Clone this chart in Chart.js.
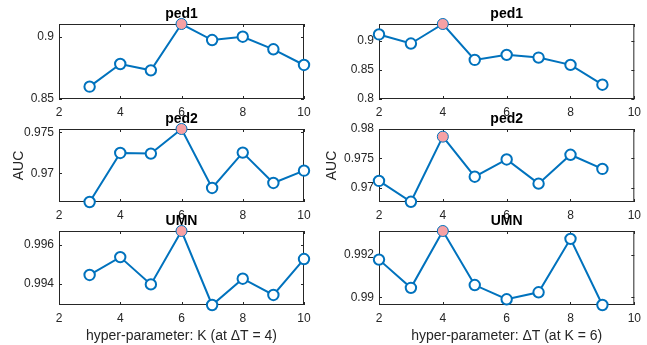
<!DOCTYPE html>
<html>
<head>
<meta charset="utf-8">
<script src="https://cdn.jsdelivr.net/npm/chart.js@4.4.1/dist/chart.umd.min.js"></script>
<style>
  body { margin: 0; background: #fff; width: 647px; height: 345px; position: relative; overflow: hidden; }
  canvas { position: absolute; }
</style>
</head>
<body>
<canvas id="ped1K"></canvas>
<canvas id="ped1DT"></canvas>
<canvas id="ped2K"></canvas>
<canvas id="ped2DT"></canvas>
<canvas id="umnK"></canvas>
<canvas id="umnDT"></canvas>
<script>
// x values
const kSteps = [3, 4, 5, 6, 7, 8, 9, 10];
const dtSteps = [2, 3, 4, 5, 6, 7, 8, 9];
const xTicks = [2, 4, 6, 8, 10];

// AUC, varying K (dT = 4)
const ped1K = [0.8599, 0.8781, 0.8730, 0.9102, 0.8973, 0.9000, 0.8899, 0.8773];
const ped2K = [0.9665, 0.97248, 0.9724, 0.9754, 0.96821, 0.97252, 0.96882, 0.97032];
const umnK = [0.99446, 0.99537, 0.99398, 0.9967, 0.99293, 0.99427, 0.99344, 0.99527];

// AUC, varying dT (K = 6)
const ped1DT = [0.9115, 0.8958, 0.9295, 0.8675, 0.8762, 0.8715, 0.8589, 0.8247];
const ped2DT = [0.97118, 0.96764, 0.9787, 0.9719, 0.97483, 0.97072, 0.97562, 0.97322];
const umnDT = [0.99178, 0.99045, 0.99313, 0.99058, 0.98991, 0.99024, 0.99276, 0.98964];

// y limits and ticks
const ped1KLim = [0.85, 0.9102];
const ped2KLim = [0.9665, 0.9754];
const umnKLim = [0.99293, 0.9967];
const ped1DTLim = [0.8, 0.9295];
const ped2DTLim = [0.9676, 0.98];
const umnDTLim = [0.98964, 0.99313];

const ped1KTicks = [0.85, 0.9];
const ped2KTicks = [0.97, 0.975];
const umnKTicks = [0.994, 0.996];
const ped1DTTicks = [0.8, 0.85, 0.9];
const ped2DTTicks = [0.97, 0.975, 0.98];
const umnDTTicks = [0.99, 0.992];

const FONT = "'Liberation Sans', Arial, sans-serif";
const AXIS = '#262626';
const BLUE = '#0072BD';
const PINK = '#F7A1A4';

// box with inward ticks on all four sides, like matlab
const frame = {
    id: 'frame',
    beforeDatasetsDraw(chart) {
        const { ctx, chartArea: a, scales: { x, y } } = chart;
        ctx.save();
        ctx.strokeStyle = AXIS;
        ctx.lineWidth = 1;
        ctx.strokeRect(a.left + 0.5, a.top + 0.5, a.width - 1, a.height - 1);
        ctx.beginPath();
        x.ticks.forEach(t => {
            const px = Math.round(x.getPixelForValue(t.value)) + 0.5;
            ctx.moveTo(px, a.bottom); ctx.lineTo(px, a.bottom - 3);
            ctx.moveTo(px, a.top); ctx.lineTo(px, a.top + 3);
        });
        y.ticks.forEach(t => {
            const py = Math.round(y.getPixelForValue(t.value)) + 0.5;
            ctx.moveTo(a.left, py); ctx.lineTo(a.left + 3, py);
            ctx.moveTo(a.right, py); ctx.lineTo(a.right - 3, py);
        });
        ctx.stroke();
        ctx.restore();
    }
};

function fmt(v) {
    return String(+Number(v).toFixed(4));
}

function makePanel(id, pos, title, xs, ys, lim, yTicks, yLabel, xLabel) {
    const cv = document.getElementById(id);
    cv.width = pos.w; cv.height = pos.h;
    cv.style.left = pos.left + 'px';
    cv.style.top = pos.top + 'px';

    const best = ys.indexOf(Math.max(...ys));

    return new Chart(cv.getContext('2d'), {
        type: 'line',
        data: {
            datasets: [{
                data: xs.map((x, i) => ({ x: x, y: ys[i] })),
                borderColor: BLUE,
                borderWidth: 2,
                pointBorderColor: BLUE,
                pointBackgroundColor: ys.map((v, i) => i === best ? PINK : '#fff'),
                pointBorderWidth: ys.map((v, i) => i === best ? 1 : 2),
                pointRadius: ys.map((v, i) => i === best ? 5.5 : 5.2),
                tension: 0,
                clip: false
            }]
        },
        options: {
            responsive: false,
            animation: false,
            devicePixelRatio: 1,
            layout: { padding: { left: 0, right: pos.pr, top: 0, bottom: 0 } },
            plugins: {
                legend: { display: false },
                tooltip: { enabled: false },
                title: {
                    display: true,
                    text: title,
                    fullSize: false,
                    color: '#000',
                    font: { family: FONT, size: 14, weight: 'bold', lineHeight: 1.2 },
                    padding: { top: 6, bottom: 1.2 }
                }
            },
            scales: {
                x: {
                    type: 'linear',
                    min: 2, max: 10,
                    afterBuildTicks: s => { s.ticks = xTicks.map(v => ({ value: v })); },
                    afterFit: s => { s.height = pos.xh; },
                    grid: { display: false, drawTicks: false },
                    border: { display: false },
                    ticks: { color: AXIS, padding: 6, maxRotation: 0, font: { family: FONT, size: 12 }, callback: fmt },
                    title: {
                        display: !!xLabel,
                        text: xLabel || '',
                        color: AXIS,
                        font: { family: FONT, size: 14 },
                        padding: { top: 0, bottom: 0 }
                    }
                },
                y: {
                    type: 'linear',
                    min: lim[0], max: lim[1],
                    afterBuildTicks: s => { s.ticks = yTicks.map(v => ({ value: v })); },
                    afterFit: s => { s.width = pos.yw; },
                    grid: { display: false, drawTicks: false },
                    border: { display: false },
                    ticks: { color: AXIS, padding: 5, font: { family: FONT, size: 12 }, callback: fmt },
                    title: {
                        display: !!yLabel,
                        text: yLabel || '',
                        color: AXIS,
                        font: { family: FONT, size: 14 },
                        padding: { top: pos.ytp, bottom: 0 }
                    }
                }
            }
        },
        plugins: [frame]
    });
}

// column / row placement
const colL = { left: 0, w: 318, yw: 59, pr: 14, ytp: 10.3 };
const colR = { left: 318, w: 329, yw: 61, pr: 8, ytp: 5.3 };
const row1 = { top: 0, h: 119, xh: 20 };
const row2 = { top: 105, h: 117, xh: 20 };
const row3 = { top: 207, h: 138, xh: 40 };
const at = (c, r) => Object.assign({}, c, r);

makePanel('ped1K', at(colL, row1), 'ped1', kSteps, ped1K, ped1KLim, ped1KTicks);
makePanel('ped1DT', at(colR, row1), 'ped1', dtSteps, ped1DT, ped1DTLim, ped1DTTicks);
makePanel('ped2K', at(colL, row2), 'ped2', kSteps, ped2K, ped2KLim, ped2KTicks, 'AUC');
makePanel('ped2DT', at(colR, row2), 'ped2', dtSteps, ped2DT, ped2DTLim, ped2DTTicks, 'AUC');
makePanel('umnK', at(colL, row3), 'UMN', kSteps, umnK, umnKLim, umnKTicks, null, 'hyper-parameter: K (at \u0394T = 4)');
makePanel('umnDT', at(colR, row3), 'UMN', dtSteps, umnDT, umnDTLim, umnDTTicks, null, 'hyper-parameter: \u0394T (at K = 6)');
</script>
</body>
</html>
